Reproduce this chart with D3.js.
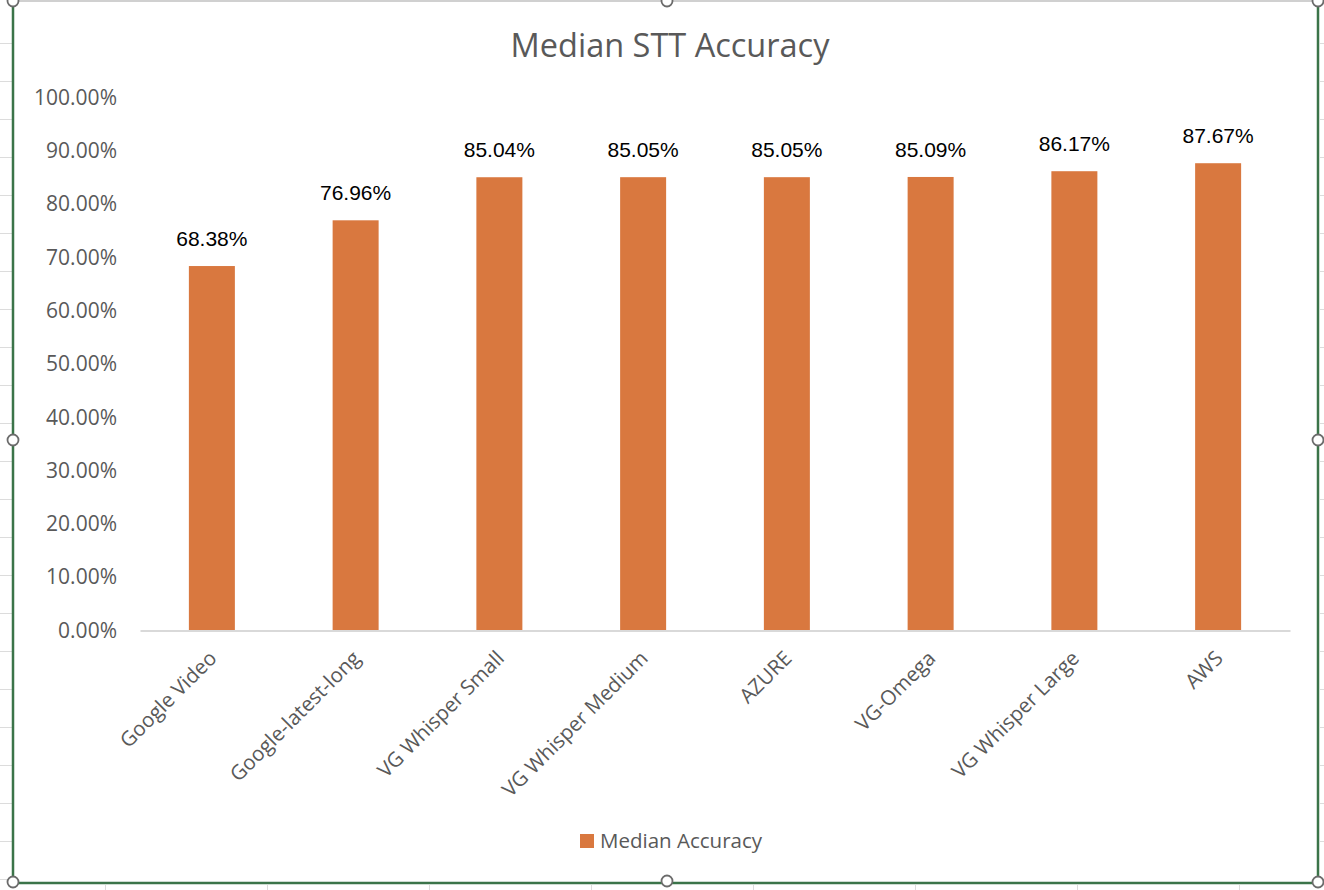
<!DOCTYPE html>
<html>
<head>
<meta charset="utf-8">
<script src="https://cdn.jsdelivr.net/npm/d3@7"></script>
<style>
  body { margin: 0; background: #fff; }
  svg { display: block; }
</style>
</head>
<body>
<div id="chart"></div>
<script>
// chart data
var categories = ["Google Video", "Google-latest-long", "VG Whisper Small", "VG Whisper Medium",
    "AZURE", "VG-Omega", "VG Whisper Large", "AWS"];
var medianAccuracy = [0.6838, 0.7696, 0.8504, 0.8505, 0.8505, 0.8509, 0.8617, 0.8767];
var yTicks = [0, 0.1, 0.2, 0.3, 0.4, 0.5, 0.6, 0.7, 0.8, 0.9, 1.0];
var seriesName = "Median Accuracy";
var chartTitle = "Median STT Accuracy";

var W = 1324, H = 890;
var barColor = "#d9783f", grey = "#595959", frame = "#3b7449";

var svg = d3.select("#chart").append("svg")
    .attr("width", W)
    .attr("height", H);

// spreadsheet cell lines peeking out round the chart object
var cellRows = d3.range(43, H, 38);
svg.selectAll(".cell-left")
    .data(cellRows)
    .enter().append("line")
    .attr("x1", 0).attr("x2", 12)
    .attr("y1", d => d + 0.5).attr("y2", d => d + 0.5)
    .style("stroke", "#dcdcdc");
svg.selectAll(".cell-right")
    .data(cellRows)
    .enter().append("line")
    .attr("x1", 1320).attr("x2", W)
    .attr("y1", d => d + 0.5).attr("y2", d => d + 0.5)
    .style("stroke", "#dcdcdc");
svg.selectAll(".cell-bottom")
    .data(d3.range(105, W, 162))
    .enter().append("line")
    .attr("x1", d => d + 0.5).attr("x2", d => d + 0.5)
    .attr("y1", 885).attr("y2", H)
    .style("stroke", "#dcdcdc");

// scales
var x = d3.scaleBand()
    .domain(categories)
    .range([140, 1290])
    .paddingInner(0.68)
    .paddingOuter(0.34);

var y = d3.scaleLinear()
    .domain([0, 1])
    .range([630.5, 97.5]);

var pct = d3.format(".2%");

// title
svg.append("text")
    .attr("x", 670)
    .attr("y", 57)
    .style("text-anchor", "middle")
    .style("font-family", "'Open Sans', sans-serif")
    .style("font-size", "32.5px")
    .style("fill", grey)
    .text(chartTitle);

// y axis (labels only)
var yAxis = d3.axisLeft(y)
    .tickValues(yTicks)
    .tickFormat(pct)
    .tickSize(0)
    .tickPadding(0);

svg.append("g")
    .attr("class", "y-axis")
    .attr("transform", "translate(117,0)")
    .call(yAxis)
    .call(g => g.select(".domain").remove())
    .selectAll("text")
    .style("font-family", "'Open Sans', sans-serif")
    .style("font-size", "21px")
    .style("fill", grey);

// bars
svg.selectAll(".bar")
    .data(medianAccuracy)
    .enter().append("rect")
    .attr("class", "bar")
    .attr("x", (d, i) => x(categories[i]))
    .attr("width", x.bandwidth())
    .attr("y", d => y(d))
    .attr("height", d => y(0) - y(d))
    .style("fill", barColor);

// x axis
var xAxis = d3.axisBottom(x).tickSize(0).tickPadding(0);
var gx = svg.append("g")
    .attr("class", "x-axis")
    .attr("transform", "translate(0," + y(0) + ")")
    .call(xAxis);
gx.select(".domain")
    .style("stroke", "#d9d9d9")
    .style("stroke-width", 2);
gx.selectAll("text")
    .attr("transform", "translate(1,24) rotate(-45)")
    .attr("dy", "0.35em")
    .style("text-anchor", "end")
    .style("font-family", "'Open Sans', sans-serif")
    .style("font-size", "20.5px")
    .style("fill", grey);

// data labels
svg.selectAll(".value")
    .data(medianAccuracy)
    .enter().append("text")
    .attr("class", "value")
    .attr("x", (d, i) => x(categories[i]) + x.bandwidth() / 2)
    .attr("y", d => y(d) - 20)
    .style("text-anchor", "middle")
    .style("font-family", "'Liberation Sans', Arial, sans-serif")
    .style("font-size", "21px")
    .style("fill", "#000")
    .text(pct);

// legend
var legend = svg.append("g").attr("transform", "translate(580,834)");
legend.append("rect")
    .attr("width", 14).attr("height", 14)
    .style("fill", barColor);
legend.append("text")
    .attr("x", 20).attr("y", 14)
    .style("font-family", "'Open Sans', sans-serif")
    .style("font-size", "20.5px")
    .style("fill", grey)
    .text(seriesName);

// selection frame of the chart object
svg.append("line")
    .attr("x1", 13).attr("x2", 1318).attr("y1", 1).attr("y2", 1)
    .style("stroke", "#d0d0d0").style("stroke-width", 2);
svg.append("path")
    .attr("d", "M13,1V883H1318V1")
    .style("fill", "none")
    .style("stroke", frame)
    .style("stroke-width", 2.5);

var handles = [[13, 1], [667, 1], [1318, 1], [13, 440], [1318, 440], [13, 882], [667, 881], [1318, 882]];
svg.selectAll(".handle")
    .data(handles)
    .enter().append("circle")
    .attr("cx", d => d[0]).attr("cy", d => d[1])
    .attr("r", 5.5)
    .style("fill", "#fff")
    .style("stroke", "#6b6b6b")
    .style("stroke-width", 1.8);
</script>
</body>
</html>
